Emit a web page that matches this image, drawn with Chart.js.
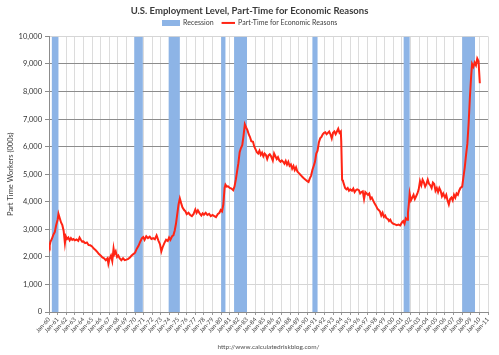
<!DOCTYPE html>
<html>
<head>
<meta charset="utf-8">
<script src="https://cdn.jsdelivr.net/npm/chart.js@4/dist/chart.umd.min.js"></script>
<style>
  html, body { margin: 0; padding: 0; background: #ffffff; }
  #c { display: block; }
</style>
</head>
<body>
<canvas id="c" width="499" height="355"></canvas>
<script>
// ---- data ----
const chartTitle = 'U.S. Employment Level, Part-Time for Economic Reasons';
const seriesName = 'Part-Time for Economic Reasons';
const recessionName = 'Recession';
const yAxisTitle = 'Part Time Workers (000s)';
const sourceText = 'http://www.calculatedriskblog.com/';

const tickLabels = ['Jan-60','Jan-61','Jan-62','Jan-63','Jan-64','Jan-65','Jan-66','Jan-67','Jan-68','Jan-69',
  'Jan-70','Jan-71','Jan-72','Jan-73','Jan-74','Jan-75','Jan-76','Jan-77','Jan-78','Jan-79',
  'Jan-80','Jan-81','Jan-82','Jan-83','Jan-84','Jan-85','Jan-86','Jan-87','Jan-88','Jan-89',
  'Jan-90','Jan-91','Jan-92','Jan-93','Jan-94','Jan-95','Jan-96','Jan-97','Jan-98','Jan-99',
  'Jan-00','Jan-01','Jan-02','Jan-03','Jan-04','Jan-05','Jan-06','Jan-07','Jan-08','Jan-09',
  'Jan-10','Jan-11'];
const firstYear = 1960;

const recessionStart = [1960.3, 1969.9, 1973.9, 1980.0, 1981.5, 1990.6, 2001.2, 2008.0];
const recessionEnd   = [1961.1, 1970.9, 1975.2, 1980.5, 1983.0, 1991.2, 2001.9, 2009.5];

// time (decimal year) and value (thousands)
const dates = [
  1960.0,1960.08,1960.17,1960.33,1960.5,1960.67,1960.83,1961.0,1961.1,1961.25,1961.4,1961.55,1961.7,1961.85,1961.95,
  1962.1,1962.25,1962.4,1962.55,1962.7,1962.85,
  1963.0,1963.2,1963.4,1963.55,1963.7,1963.85,
  1964.0,1964.2,1964.4,1964.6,1964.8,
  1965.0,1965.2,1965.4,1965.6,1965.8,
  1966.0,1966.2,1966.4,1966.6,1966.8,1966.9,
  1967.05,1967.2,1967.35,1967.5,1967.6,1967.75,1967.9,
  1968.05,1968.2,1968.4,1968.6,1968.8,
  1969.0,1969.2,1969.4,1969.6,1969.8,
  1970.0,1970.2,1970.4,1970.6,1970.8,1970.95,
  1971.1,1971.3,1971.5,1971.7,1971.9,
  1972.1,1972.3,1972.5,1972.7,1972.9,
  1973.05,1973.2,1973.4,1973.6,1973.8,1973.95,
  1974.1,1974.3,1974.45,1974.6,1974.75,1974.9,
  1975.05,1975.2,1975.35,1975.5,1975.7,1975.85,
  1976.0,1976.2,1976.4,1976.6,1976.8,
  1977.0,1977.15,1977.3,1977.5,1977.7,1977.85,
  1978.0,1978.2,1978.4,1978.6,1978.8,
  1979.0,1979.2,1979.4,1979.6,1979.8,1979.95,
  1980.1,1980.25,1980.4,1980.5,1980.65,1980.8,
  1981.0,1981.2,1981.4,1981.55,1981.7,1981.85,
  1982.0,1982.15,1982.3,1982.45,1982.6,1982.75,1982.9,
  1983.05,1983.2,1983.35,1983.5,1983.7,1983.85,
  1984.0,1984.15,1984.3,1984.45,1984.6,1984.75,1984.9,
  1985.05,1985.2,1985.35,1985.5,1985.65,1985.8,
  1986.0,1986.15,1986.3,1986.45,1986.6,1986.75,1986.9,
  1987.05,1987.2,1987.35,1987.5,1987.65,1987.8,1987.95,
  1988.1,1988.25,1988.4,1988.55,1988.7,1988.85,
  1989.0,1989.15,1989.3,1989.45,1989.6,1989.8,
  1990.0,1990.15,1990.3,1990.45,1990.6,1990.75,1990.9,
  1991.05,1991.2,1991.35,1991.5,1991.65,1991.8,1991.95,
  1992.1,1992.25,1992.4,1992.55,1992.7,1992.85,
  1993.0,1993.15,1993.3,1993.45,1993.6,1993.75,1993.9,1993.95,
  1994.05,1994.15,1994.25,1994.4,1994.55,1994.7,1994.85,
  1995.0,1995.2,1995.35,1995.5,1995.65,1995.8,
  1996.0,1996.15,1996.3,1996.45,1996.6,1996.75,1996.9,
  1997.05,1997.2,1997.35,1997.5,1997.65,1997.8,
  1998.0,1998.15,1998.3,1998.45,1998.6,1998.75,1998.9,
  1999.05,1999.2,1999.35,1999.5,1999.65,1999.8,
  2000.0,2000.2,2000.4,2000.6,2000.8,
  2001.0,2001.15,2001.3,2001.45,2001.6,2001.7,2001.8,2001.9,
  2002.05,2002.2,2002.35,2002.5,2002.65,2002.8,2002.95,
  2003.1,2003.25,2003.4,2003.55,2003.7,2003.85,
  2004.0,2004.15,2004.3,2004.45,2004.6,2004.75,2004.9,
  2005.05,2005.2,2005.35,2005.5,2005.65,2005.8,
  2006.0,2006.15,2006.3,2006.45,2006.6,2006.75,2006.9,
  2007.05,2007.2,2007.35,2007.5,2007.65,2007.8,
  2008.0,2008.15,2008.3,2008.45,2008.6,2008.75,2008.9,
  2009.05,2009.15,2009.3,2009.45,2009.6,2009.75,2009.9,2010.05
];
const partTime = [
  2500,2420,2550,2650,2800,2900,3150,3350,3560,3400,3250,3150,2950,2500,2750,
  2650,2700,2600,2680,2620,2650,
  2600,2630,2580,2700,2620,2550,
  2560,2500,2520,2430,2420,
  2380,2300,2250,2180,2100,
  2050,1980,1950,1880,1950,1750,
  1950,2050,1850,2300,2100,2200,2000,
  2050,1950,1880,1950,1880,
  1900,1930,1980,2050,2100,
  2150,2300,2400,2550,2680,2720,
  2620,2750,2680,2730,2650,
  2680,2640,2780,2600,2450,
  2200,2350,2500,2620,2580,2700,
  2620,2750,2780,2950,3200,3550,
  3900,4120,3950,3800,3700,3650,
  3550,3600,3520,3480,3560,
  3720,3600,3690,3580,3500,3580,
  3530,3600,3520,3560,3480,
  3520,3480,3440,3550,3600,3700,
  3650,3900,4500,4620,4550,4560,
  4500,4480,4420,4550,4800,5100,
  5400,5800,5950,6050,6400,6810,6700,
  6600,6450,6350,6200,6180,6000,
  5900,5800,5750,5850,5700,5780,5650,
  5750,5700,5550,5680,5720,5650,
  5500,5750,5650,5550,5620,5500,5450,
  5500,5450,5380,5480,5350,5450,5300,
  5350,5200,5300,5150,5250,5100,
  5050,5000,4950,4900,4850,4800,
  4750,4720,4850,4950,5150,5300,5450,
  5750,5850,6150,6300,6350,6450,6500,
  6520,6450,6500,6550,6450,6300,
  6500,6550,6450,6550,6650,6500,6550,6200,
  4800,4750,4650,4500,4450,4500,4400,
  4450,4400,4480,4350,4420,4450,
  4420,4300,4350,4380,4100,4350,4300,
  4250,4300,4100,4150,4050,3950,
  3850,3750,3700,3650,3500,3600,3450,
  3500,3400,3380,3300,3350,3250,
  3200,3180,3150,3170,3140,
  3250,3300,3200,3400,3350,3600,3900,4300,
  4050,4150,4250,4100,4200,4300,4450,
  4750,4600,4800,4700,4550,4650,
  4800,4650,4600,4500,4700,4650,4400,
  4500,4350,4500,4400,4200,4300,
  4150,4250,4050,3900,4100,4150,4050,
  4250,4150,4300,4250,4400,4500,
  4550,4900,5250,5700,6100,6850,7800,
  8600,9000,8900,9050,8950,9200,9100,8300
];

// ---- legend swatches ----
function swatch(w, h, color, x0, y0, sw, sh) {
  const cv = document.createElement('canvas');
  cv.width = w; cv.height = h;
  const g = cv.getContext('2d');
  g.fillStyle = color;
  g.fillRect(x0, y0, sw, sh);
  return cv;
}
const blueColor = '#8db4e6';
const redColor = '#ff2414';
const recessionSwatch = swatch(18, 6, blueColor, 0, 0, 18, 6);
const lineSwatch = swatch(18, 6, redColor, 5, 2, 13, 2);

// ---- build datasets ----
const recessionPoints = [];
recessionStart.forEach((s, i) => {
  recessionPoints.push({x: s, y: 0}, {x: s, y: 10000}, {x: recessionEnd[i], y: 10000}, {x: recessionEnd[i], y: 0});
});
const seriesPoints = dates.map((d, i) => ({x: d, y: partTime[i]}));

const FONT = 'Lato, "Liberation Sans", sans-serif';

new Chart(document.getElementById('c'), {
  type: 'line',
  data: {
    datasets: [
      {
        label: recessionName,
        data: recessionPoints,
        backgroundColor: blueColor,
        borderColor: 'rgba(0,0,0,0)',
        borderWidth: 0,
        pointRadius: 0,
        fill: 'origin',
        order: 2
      },
      {
        label: seriesName,
        data: seriesPoints,
        borderColor: redColor,
        backgroundColor: redColor,
        borderWidth: 2,
        pointRadius: 0,
        fill: false,
        tension: 0,
        order: 1
      }
    ]
  },
  options: {
    responsive: false,
    animation: false,
    devicePixelRatio: 1,
    layout: { padding: 0 },
    plugins: {
      title: {
        display: true,
        text: chartTitle,
        color: '#3a3a3a',
        font: { family: FONT, size: 9.5, weight: 'bold' },
        padding: { top: 5, bottom: 0 }
      },
      legend: {
        display: true,
        position: 'top',
        maxHeight: 22.3,
        labels: {
          usePointStyle: true,
          pointStyleWidth: 18,
          boxHeight: 6,
          padding: 3,
          color: '#404040',
          font: { family: FONT, size: 7 },
          sort: (a, b) => a.datasetIndex - b.datasetIndex,
          generateLabels: (chart) => {
            const items = Chart.defaults.plugins.legend.labels.generateLabels(chart);
            items.forEach(it => {
              it.pointStyle = it.datasetIndex === 0 ? recessionSwatch : lineSwatch;
            });
            return items;
          }
        }
      },
      tooltip: { enabled: false }
    },
    scales: {
      x: {
        type: 'linear',
        min: firstYear,
        max: firstYear + tickLabels.length - 1,
        afterFit: (s) => { s.height = 43; },
        grid: { color: '#dcdcdc', lineWidth: 1, tickLength: 3, tickColor: '#9a9a9a' },
        border: { color: '#8c8c8c' },
        ticks: {
          stepSize: 1,
          autoSkip: false,
          maxRotation: 48,
          minRotation: 48,
          padding: 1,
          color: '#404040',
          font: { family: FONT, size: 6 },
          callback: (v) => tickLabels[Math.round(v - firstYear)]
        },
        title: {
          display: true,
          text: sourceText,
          color: '#505050',
          font: { family: FONT, size: 6.5 },
          padding: { top: 0, bottom: 3.8 }
        }
      },
      y: {
        min: 0,
        max: 10000,
        afterFit: (s) => { s.width = 49; },
        grid: {
          color: (ctx) => (ctx.tick && ctx.tick.value >= 6000 && ctx.tick.value <= 9000) ? '#8c8c8c' : '#d6d6d6',
          tickLength: 4,
          tickColor: '#8c8c8c'
        },
        border: { color: '#8c8c8c' },
        ticks: {
          stepSize: 1000,
          padding: 3,
          color: '#333333',
          font: { family: FONT, size: 7.5 },
          callback: (v) => v.toLocaleString('en-US')
        },
        title: {
          display: true,
          text: yAxisTitle,
          color: '#404040',
          font: { family: FONT, size: 7.5 },
          padding: { top: 6.5, bottom: 0 }
        }
      },
      yRight: {
        position: 'right',
        display: true,
        afterFit: (s) => { s.width = 11; },
        grid: { display: false },
        border: { display: false },
        ticks: { display: false }
      }
    }
  }
});
</script>
</body>
</html>
